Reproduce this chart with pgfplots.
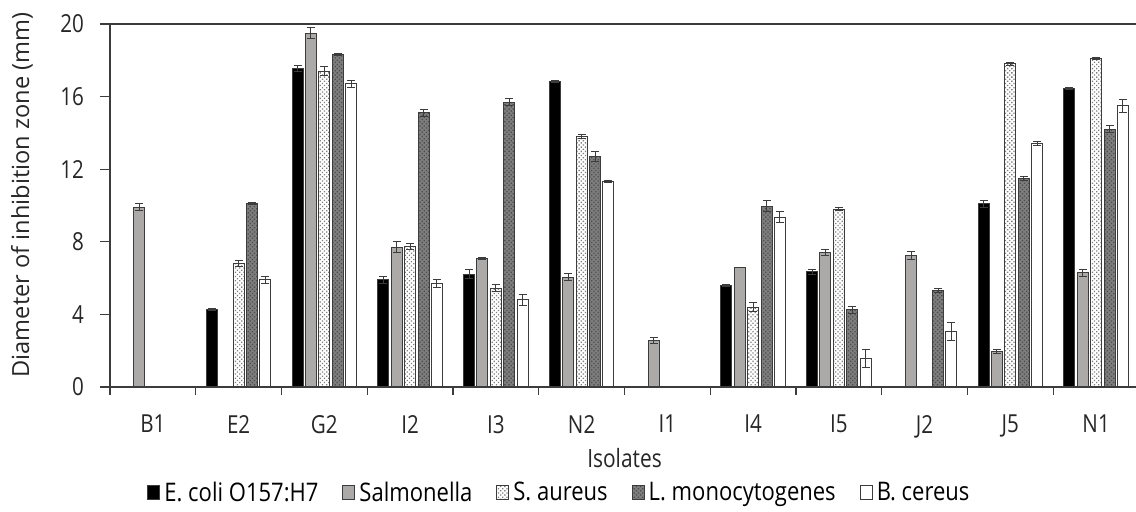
\documentclass[border=0pt]{standalone}
\usepackage{pgfplots}
\pgfplotsset{compat=1.18}
\usepackage{fontspec}
\setmainfont{Open Sans}[FakeStretch=0.83]
\newfontfamily\legfont{Open Sans}[FakeStretch=0.86]
\newfontfamily\ylabfont{Open Sans}
\usetikzlibrary{patterns.meta}
\definecolor{axc}{RGB}{60,60,60}
\definecolor{salm}{RGB}{172,170,168}
\definecolor{lmon}{RGB}{125,125,125}
\definecolor{dotc}{RGB}{125,125,125}
\begin{document}
\begin{tikzpicture}
\useasboundingbox (-55pt,-62.5pt) rectangle (513pt,193.5pt);
\clip (-55pt,-62.5pt) rectangle (513pt,193.5pt);
\begin{axis}[
  at={(0,0)}, anchor=origin,
  scale only axis, width=514.5pt, height=181.5pt,
  xmin=0, xmax=12, ymin=0, ymax=20,
  ybar=1.2pt, bar width=5.5pt,
  axis x line*=bottom, axis y line*=left,
  axis line style={axc, line width=0.6pt},
  xtick={0.5,1.5,...,11.5},
  xticklabels={B1,E2,G2,I2,I3,N2,I1,I4,I5,J2,J5,N1},
  major x tick style={draw=none},
  minor xtick={0,1,...,11},
  minor tick length=4pt,
  major tick length=5pt,
  tick align=outside,
  tick style={axc, line width=0.6pt},
  ytick={0,4,...,20},
  /pgf/number format/assume math mode=true,
  ticklabel style={font=\fontsize{12.4}{14}\selectfont, text=black!85},
  xticklabel style={yshift=-5.5pt},
  yticklabel style={xshift=-4.5pt},
  xlabel={Isolates},
  xlabel style={at={(axis description cs:0.5,-0.196)}, anchor=center, font=\fontsize{12.6}{14}\selectfont, text=black!85},
  ylabel={Diameter of inhibition zone (mm)},
  ylabel style={at={(axis description cs:-0.0855,0.529)}, anchor=center, font=\ylabfont\fontsize{11.8}{14}\selectfont, text=black!85},
  legend style={at={(axis description cs:0.036,-0.292)}, anchor=west, draw=none, fill=none,
    legend columns=5, font=\legfont\fontsize{12.8}{14}\selectfont, inner sep=0pt,
    /tikz/every even column/.append style={column sep=10pt}},
  legend image code/.code={\draw[#1] (0pt,-3.5pt) rectangle (6pt,3.5pt);},
  every axis plot/.append style={draw=axc, line width=0.5pt,
    error bars/y dir=both, error bars/y explicit,
    error bars/error bar style={axc, line width=0.5pt},
    error bars/error mark options={rotate=90, axc, mark size=2pt, line width=0.5pt}},
]
% E. coli O157:H7
\addplot[fill=black] coordinates {
 (1.5,4.25) +- (0,0.05)
 (2.5,17.55) +- (0,0.15)
 (3.5,5.9) +- (0,0.2)
 (4.5,6.2) +- (0,0.25)
 (5.5,16.85) +- (0,0.05)
 (7.5,5.6) +- (0,0.05)
 (8.5,6.35) +- (0,0.15)
 (10.5,10.1) +- (0,0.2)
 (11.5,16.45) +- (0,0.05)
};
% Salmonella
\addplot[fill=salm] coordinates {
 (0.5,9.9) +- (0,0.2)
 (2.5,19.5) +- (0,0.3)
 (3.5,7.7) +- (0,0.3)
 (4.5,7.1) +- (0,0.05)
 (5.5,6.05) +- (0,0.2)
 (6.5,2.55) +- (0,0.15)
 (7.5,6.6) +- (0,0.0)
 (8.5,7.4) +- (0,0.15)
 (9.5,7.25) +- (0,0.2)
 (10.5,1.95) +- (0,0.1)
 (11.5,6.3) +- (0,0.2)
};
% S. aureus
\addplot[fill=white, postaction={pattern={Dots[distance=1.5pt, radius=0.45pt, angle=45]}, pattern color=dotc}] coordinates {
 (1.5,6.8) +- (0,0.15)
 (2.5,17.4) +- (0,0.25)
 (3.5,7.75) +- (0,0.15)
 (4.5,5.45) +- (0,0.2)
 (5.5,13.8) +- (0,0.1)
 (7.5,4.4) +- (0,0.25)
 (8.5,9.8) +- (0,0.1)
 (10.5,17.8) +- (0,0.1)
 (11.5,18.1) +- (0,0.05)
};
% L. monocytogenes
\addplot[fill=lmon, postaction={pattern={Dots[distance=1.5pt, radius=0.45pt, angle=45]}, pattern color=black!70}] coordinates {
 (1.5,10.1) +- (0,0.05)
 (2.5,18.3) +- (0,0.05)
 (3.5,15.1) +- (0,0.2)
 (4.5,15.7) +- (0,0.2)
 (5.5,12.7) +- (0,0.3)
 (7.5,9.95) +- (0,0.3)
 (8.5,4.25) +- (0,0.2)
 (9.5,5.3) +- (0,0.1)
 (10.5,11.5) +- (0,0.1)
 (11.5,14.2) +- (0,0.2)
};
% B. cereus
\addplot[fill=white] coordinates {
 (1.5,5.9) +- (0,0.2)
 (2.5,16.7) +- (0,0.2)
 (3.5,5.7) +- (0,0.2)
 (4.5,4.8) +- (0,0.3)
 (5.5,11.3) +- (0,0.05)
 (7.5,9.35) +- (0,0.3)
 (8.5,1.55) +- (0,0.5)
 (9.5,3.05) +- (0,0.5)
 (10.5,13.4) +- (0,0.1)
 (11.5,15.5) +- (0,0.35)
};
\legend{E. coli O157:H7, Salmonella, S. aureus, L. monocytogenes, B. cereus}
\draw[axc, line width=0.6pt] (rel axis cs:0,1) -- (rel axis cs:1,1);
\end{axis}
\end{tikzpicture}
\end{document}
